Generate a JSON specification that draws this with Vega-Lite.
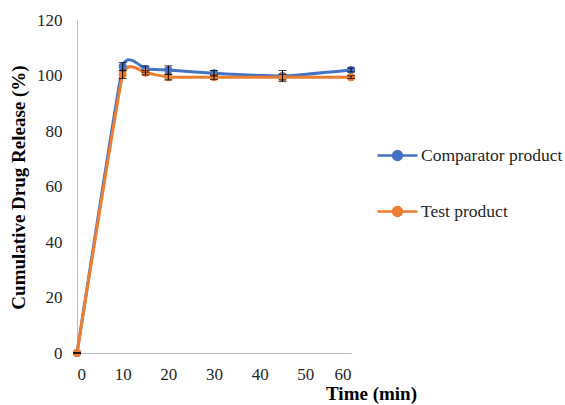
{
  "$schema": "https://vega.github.io/schema/vega-lite/v6.json",
  "width": 274,
  "height": 333,
  "autosize": {"type": "none"},
  "padding": {"left": 77, "top": 20, "right": 214, "bottom": 52},
  "background": "white",
  "config": {
    "font": "Times New Roman, Liberation Serif, serif",
    "view": {"stroke": null},
    "text": {"font": "Liberation Serif"},
    "axis": {
      "grid": false,
      "ticks": false,
      "domainColor": "#bfbfbf",
      "domainWidth": 1,
      "labelFont": "Times New Roman, Liberation Serif, serif",
      "labelFontSize": 17,
      "labelColor": "#262626",
      "titleFont": "Times New Roman, Liberation Serif, serif",
      "titleFontSize": 19,
      "titleFontWeight": "bold",
      "titleColor": "#000000"
    },
    "legend": {
      "labelFont": "Times New Roman, Liberation Serif, serif"
    }
  },
  "data": {
    "values": [
      {"t": 0, "series": "Comparator product", "v": 0, "lo": 0, "hi": 0},
      {"t": 10, "series": "Comparator product", "v": 103.2, "lo": 101.7, "hi": 104.7},
      {"t": 15, "series": "Comparator product", "v": 102.3, "lo": 101.2, "hi": 103.4},
      {"t": 20, "series": "Comparator product", "v": 102.0, "lo": 100.5, "hi": 103.5},
      {"t": 30, "series": "Comparator product", "v": 100.8, "lo": 99.8, "hi": 101.8},
      {"t": 45, "series": "Comparator product", "v": 99.8, "lo": 97.8, "hi": 101.8},
      {"t": 60, "series": "Comparator product", "v": 102.0, "lo": 101.3, "hi": 102.7},
      {"t": 0, "series": "Test product", "v": 0, "lo": 0, "hi": 0},
      {"t": 10, "series": "Test product", "v": 100.4, "lo": 98.9, "hi": 101.9},
      {"t": 15, "series": "Test product", "v": 101.0, "lo": 100.2, "hi": 101.8},
      {"t": 20, "series": "Test product", "v": 99.4, "lo": 98.4, "hi": 100.4},
      {"t": 30, "series": "Test product", "v": 99.4, "lo": 98.6, "hi": 100.2},
      {"t": 45, "series": "Test product", "v": 99.4, "lo": 98.4, "hi": 100.4},
      {"t": 60, "series": "Test product", "v": 99.4, "lo": 98.9, "hi": 99.9}
    ]
  },
  "encoding": {
    "x": {
      "field": "t",
      "type": "quantitative",
      "scale": {"domain": [0, 60], "nice": false},
      "axis": {
        "values": [0, 10, 20, 30, 40, 50, 60],
        "labelPadding": 13,
        "title": "Time (min)",
        "titleAnchor": "start",
        "titleAlign": "center",
        "titleX": 294,
        "titleY": 31
      }
    }
  },
  "layer": [
    {
      "mark": {
        "type": "line",
        "interpolate": "cardinal",
        "tension": 0.65,
        "strokeWidth": 3,
        "point": {"filled": true, "size": 65}
      },
      "encoding": {
        "y": {
          "field": "v",
          "type": "quantitative",
          "title": "Cumulative Drug Release (%)",
          "scale": {"domain": [0, 120], "nice": false},
          "axis": {
            "values": [0, 20, 40, 60, 80, 100, 120],
            "labelPadding": 15,
            "titleAnchor": "start",
            "titleAlign": "center",
            "titleX": -49,
            "titleY": 167
          }
        },
        "color": {
          "field": "series",
          "type": "nominal",
          "scale": {
            "domain": ["Comparator product", "Test product"],
            "range": ["#4472C4", "#ED7D31"]
          },
          "legend": {
            "orient": "none",
            "legendX": 299,
            "legendY": 114,
            "title": null,
            "symbolType": "M-1,0L1,0M0.22,0A0.22,0.22,0,1,1,-0.22,0A0.22,0.22,0,1,1,0.22,0Z",
            "symbolSize": 1600,
            "symbolStrokeWidth": 2.5,
            "rowPadding": 25,
            "labelFontSize": 17.5,
            "labelColor": "#262626",
            "labelOffset": 2,
            "encode": {
              "symbols": {
                "update": {
                  "fill": {"scale": "color", "field": "value"},
                  "stroke": {"scale": "color", "field": "value"},
                  "fillOpacity": {"value": 1}
                }
              }
            }
          }
        }
      }
    },
    {
      "mark": {
        "type": "errorbar",
        "ticks": {"size": 8, "color": "black", "strokeWidth": 1},
        "rule": {"color": "black", "strokeWidth": 1}
      },
      "encoding": {
        "y": {"field": "lo", "type": "quantitative", "title": "Cumulative Drug Release (%)"},
        "y2": {"field": "hi"}
      }
    }
  ]
}
